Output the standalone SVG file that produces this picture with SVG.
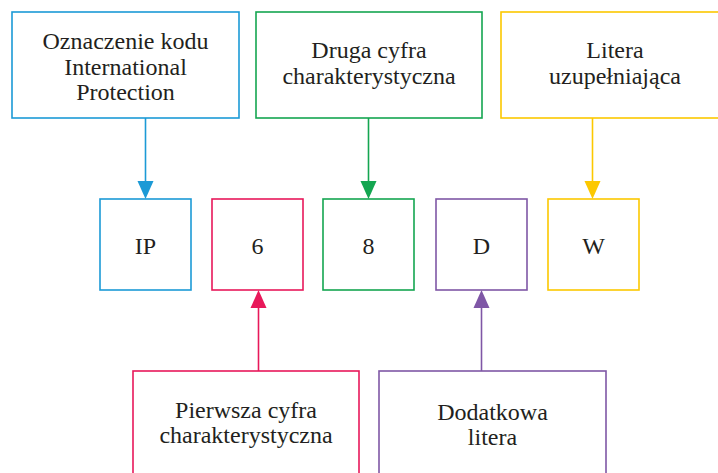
<svg xmlns="http://www.w3.org/2000/svg" width="718" height="473" viewBox="0 0 718 473">
<style>
rect{fill:#fff;stroke-width:1.6}
text{font-family:"Liberation Serif","DejaVu Serif",serif;font-size:24px;fill:#231f20;text-anchor:middle}
.c{stroke-width:1.6;fill:none}
.blue{stroke:#1c9ad6}.green{stroke:#14a651}.yellow{stroke:#fcc800}.pink{stroke:#e8185a}.purple{stroke:#7f57a6}
</style>
<rect width="718" height="473" fill="#fff" stroke="none"/>
<g id="top-ip"><rect class="blue" x="12" y="12" width="227" height="106"/><text x="125.5" y="49">Oznaczenie kodu</text><text x="125.5" y="75">International</text><text x="125.5" y="100">Protection</text></g>
<g id="top-druga"><rect class="green" x="256" y="12" width="226" height="106"/><text x="369" y="58">Druga cyfra</text><text x="369" y="84">charakterystyczna</text></g>
<g id="top-litera"><rect class="yellow" x="501" y="12" width="240" height="106"/><text x="615" y="58">Litera</text><text x="615" y="84">uzupełniająca</text></g>
<g id="box-ip"><rect class="blue" x="100" y="199" width="91" height="91"/><text x="145.5" y="254">IP</text></g>
<g id="box-6"><rect class="pink" x="212" y="199" width="91" height="91"/><text x="257.5" y="254">6</text></g>
<g id="box-8"><rect class="green" x="323" y="199" width="91" height="91"/><text x="368.5" y="254">8</text></g>
<g id="box-d"><rect class="purple" x="436" y="199" width="91" height="91"/><text x="481.5" y="254">D</text></g>
<g id="box-w"><rect class="yellow" x="548" y="199" width="91" height="91"/><text x="593.5" y="254">W</text></g>
<g id="bottom-pierwsza"><rect class="pink" x="133" y="371" width="226" height="120"/><text x="246" y="418">Pierwsza cyfra</text><text x="246" y="443">charakterystyczna</text></g>
<g id="bottom-dodatkowa"><rect class="purple" x="379" y="371" width="227" height="120"/><text x="492.5" y="420">Dodatkowa</text><text x="492.5" y="445">litera</text></g>
<g id="connectors">
<line class="c blue" x1="145.5" y1="118" x2="145.5" y2="182"/><path d="M137.5,181 L153.5,181 L145.5,199 Z" fill="#1c9ad6"/>
<line class="c green" x1="368.5" y1="118" x2="368.5" y2="182"/><path d="M360.5,181 L376.5,181 L368.5,199 Z" fill="#14a651"/>
<line class="c yellow" x1="592.5" y1="118" x2="592.5" y2="182"/><path d="M584.5,181 L600.5,181 L592.5,199 Z" fill="#fcc800"/>
<line class="c pink" x1="258.5" y1="371" x2="258.5" y2="307"/><path d="M250.5,308 L266.5,308 L258.5,290 Z" fill="#e8185a"/>
<line class="c purple" x1="481.5" y1="371" x2="481.5" y2="307"/><path d="M473.5,308 L489.5,308 L481.5,290 Z" fill="#7f57a6"/>
</g>
</svg>
